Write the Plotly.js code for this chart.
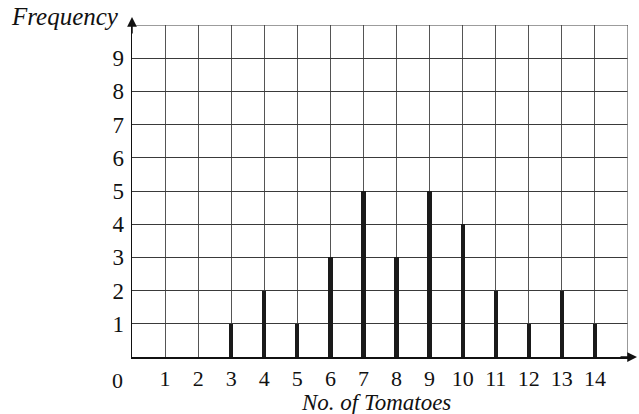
<!DOCTYPE html>
<html>
<head>
<meta charset="utf-8">
<script src="https://cdn.plot.ly/plotly-3.0.1.min.js"></script>
<style>html,body{margin:0;padding:0;background:#fff;}#chart{width:639px;height:414px;}</style>
</head>
<body>
<div id="chart"></div>
<script>
var tomatoes = [3, 4, 5, 6, 7, 8, 9, 10, 11, 12, 13, 14];
var frequency = [1, 2, 1, 3, 5, 3, 5, 4, 2, 1, 2, 1];
var xTicks = [1, 2, 3, 4, 5, 6, 7, 8, 9, 10, 11, 12, 13, 14];
var yTicks = [1, 2, 3, 4, 5, 6, 7, 8, 9];

var serif = "Liberation Serif";

var trace = {
  type: 'bar',
  x: tomatoes,
  y: frequency,
  width: 0.13,
  marker: {color: '#1a1a1a', line: {width: 0}},
  hoverinfo: 'skip'
};

var layout = {
  width: 639, height: 414,
  margin: {l: 132, r: 11, t: 25, b: 57, pad: 0},
  paper_bgcolor: '#fff', plot_bgcolor: '#fff',
  showlegend: false,
  bargap: 0,
  font: {family: serif, color: '#111'},
  xaxis: {
    range: [0, 15], tickvals: xTicks, ticktext: xTicks.map(String),
    showgrid: true, gridcolor: '#555', gridwidth: 1,
    zeroline: false,
    showline: true, linecolor: '#111', linewidth: 1.5,
    ticks: '', ticklabelstandoff: 1, tickfont: {family: serif, size: 22, color: '#111'},
    fixedrange: true
  },
  yaxis: {
    range: [0, 10], tickvals: yTicks, ticktext: yTicks.map(String),
    showgrid: true, gridcolor: '#3a3a3a', gridwidth: 1,
    zeroline: false,
    showline: true, linecolor: '#111', linewidth: 1.5,
    ticks: '', ticklabelstandoff: 2, tickfont: {family: serif, size: 23, color: '#111'},
    fixedrange: true
  },
  shapes: [
    {type: 'line', xref: 'x', yref: 'paper', x0: 15, x1: 15, y0: 0, y1: 1, line: {color: '#777', width: 1.5}},
    {type: 'line', xref: 'paper', yref: 'y', x0: 0, x1: 1, y0: 10, y1: 10, line: {color: '#3a3a3a', width: 1}}
  ],
  annotations: [
    {xref: 'paper', yref: 'paper', x: 0, y: 1, ax: 0, ay: 18, axref: 'pixel', ayref: 'pixel',
     showarrow: true, arrowhead: 2, arrowsize: 1.3, arrowwidth: 1.5, arrowcolor: '#111', text: '', yshift: 8},
    {xref: 'paper', yref: 'paper', x: 1, y: 0, ax: -18, ay: 0,
     showarrow: true, arrowhead: 2, arrowsize: 1.3, arrowwidth: 1.5, arrowcolor: '#111', text: '', xshift: 9},
    {xref: 'paper', yref: 'paper', x: 0, y: 1, xanchor: 'right', yanchor: 'bottom', xshift: -11, yshift: -7,
     text: '<i>Frequency</i>', showarrow: false, font: {family: serif, size: 25, color: '#111'}},
    {xref: 'paper', yref: 'paper', x: 0, y: 0, xanchor: 'right', yanchor: 'top', xshift: -7, yshift: -9,
     text: '0', showarrow: false, font: {family: serif, size: 22, color: '#111'}},
    {xref: 'paper', yref: 'paper', x: 0.491, y: 0, xanchor: 'center', yanchor: 'top', yshift: -31,
     text: '<i>No. of Tomatoes</i>', showarrow: false, font: {family: serif, size: 23, color: '#111'}}
  ]
};

Plotly.newPlot('chart', [trace], layout, {displayModeBar: false, staticPlot: true});
</script>
</body>
</html>
